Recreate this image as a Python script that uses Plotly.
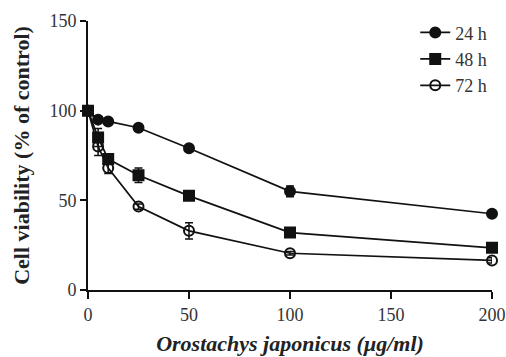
import plotly.graph_objects as go

conc = [0, 5, 10, 25, 50, 100, 200]
v24 = [100, 95, 94, 90.5, 79, 55, 42.5]
e24 = [1, 1, 1, 1.5, 1.5, 3, 1]
v48 = [100, 85, 73, 64, 52.5, 32, 23.5]
e48 = [1, 5, 3, 4, 1.5, 1.5, 2.5]
v72 = [100, 80, 68, 46.5, 33, 20.5, 16.5]
e72 = [1, 5, 3, 1.5, 4.5, 1, 1.5]
names = ["24 h", "48 h", "72 h"]
symbols = ["circle", "square", "circle-open"]

fig = go.Figure()
for name, vals, errs, sym in zip(names, [v24, v48, v72], [e24, e48, e72], symbols):
    fig.add_trace(go.Scatter(
        x=conc, y=vals, name=name, mode="lines+markers",
        line=dict(color="#111", width=1.7),
        marker=dict(symbol=sym, size=10, color="#111", line=dict(color="#111", width=2)),
        error_y=dict(type="data", array=errs, visible=True, color="#111", thickness=1.5, width=4),
        cliponaxis=False,
    ))

fig.update_layout(
    width=506, height=357,
    margin=dict(l=88, r=14, t=21, b=67, autoexpand=False),
    plot_bgcolor="white", paper_bgcolor="white",
    font=dict(family="Liberation Serif", size=18, color="#333"),
    showlegend=True,
    legend=dict(x=0.81, y=1.025, xanchor="left", yanchor="top",
                font=dict(family="Liberation Serif", size=18, color="#333"),
                bgcolor="rgba(0,0,0,0)", tracegroupgap=0, itemwidth=30),
    xaxis=dict(range=[0, 200], tickvals=[0, 50, 100, 150, 200], showgrid=False, zeroline=False,
               showline=True, linecolor="#111", linewidth=2, ticks="outside", ticklen=7,
               tickwidth=2, tickcolor="#111", automargin=False,
               tickfont=dict(family="Liberation Serif", size=18, color="#333"),
               title=dict(text="<b><i>Orostachys japonicus (μg/ml)</i></b>",
                          font=dict(family="Liberation Serif", size=22, color="#222"), standoff=12)),
    yaxis=dict(range=[0, 150], tickvals=[0, 50, 100, 150], showgrid=False, zeroline=False,
               showline=True, linecolor="#111", linewidth=2, ticks="outside", ticklen=6,
               tickwidth=2, tickcolor="#111", automargin=False,
               tickfont=dict(family="Liberation Serif", size=18, color="#333"),
               title=dict(text="<b>Cell viability (% of control)</b>",
                          font=dict(family="Liberation Serif", size=22, color="#222"), standoff=14)),
)

fig.write_html("out.html")
